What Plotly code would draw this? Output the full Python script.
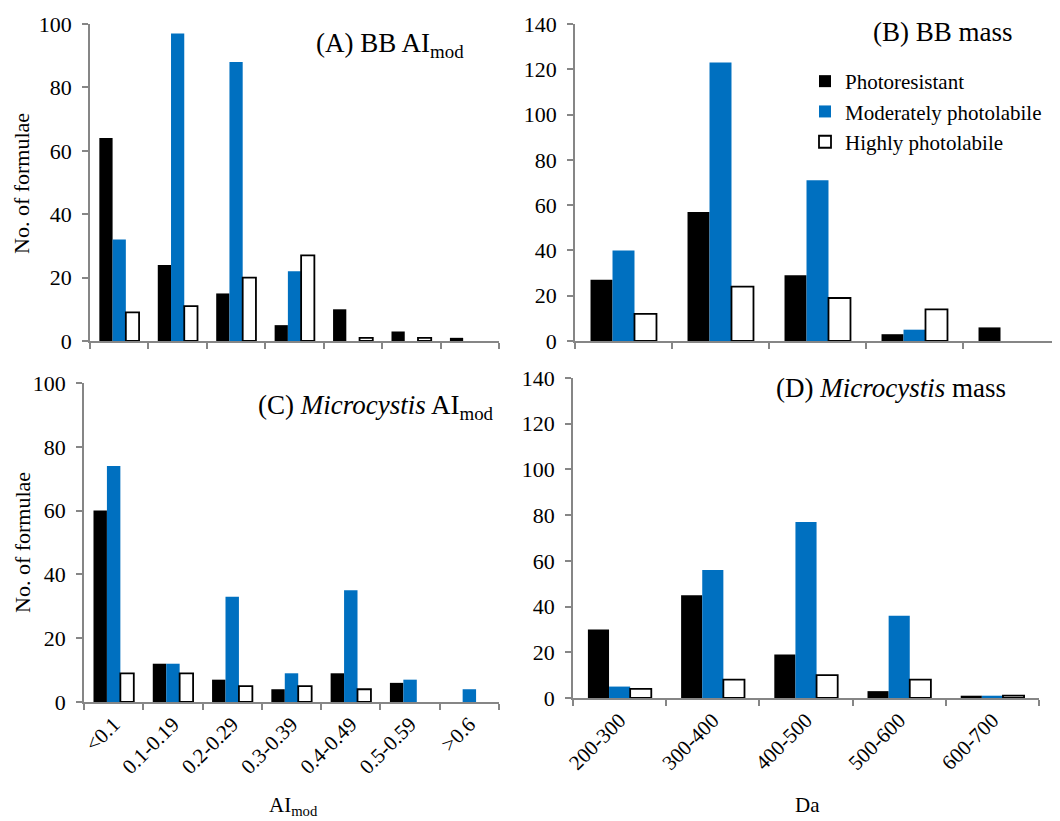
import plotly.graph_objects as go

ai_cats = ["<0.1", "0.1-0.19", "0.2-0.29", "0.3-0.39", "0.4-0.49", "0.5-0.59", ">0.6"]
mass_cats = ["200-300", "300-400", "400-500", "500-600", "600-700"]

series_names = ["Photoresistant", "Moderately photolabile", "Highly photolabile"]

# (A) BB AImod
a_photoresistant = [64, 24, 15, 5, 10, 3, 1]
a_moderate = [32, 97, 88, 22, 0, 0, 0]
a_highly = [9, 11, 20, 27, 1, 1, 0]

# (B) BB mass
b_photoresistant = [27, 57, 29, 3, 6]
b_moderate = [40, 123, 71, 5, 0]
b_highly = [12, 24, 19, 14, 0]

# (C) Microcystis AImod
c_photoresistant = [60, 12, 7, 4, 9, 6, 0]
c_moderate = [74, 12, 33, 9, 35, 7, 4]
c_highly = [9, 9, 5, 5, 4, 0, 0]

# (D) Microcystis mass
d_photoresistant = [30, 45, 19, 3, 1]
d_moderate = [5, 56, 77, 36, 1]
d_highly = [4, 8, 10, 8, 1]

# The page body has an 8 px margin; the figure fills the rest of the window.
OFF = 8
W, H = 1060 - OFF, 821 - OFF
FONT = "Liberation Serif"
AXIS_GRAY = "#868686"

styles = [
    dict(color="#000000", line=dict(color="#000000", width=0)),
    dict(color="#0070C0", line=dict(color="#0070C0", width=0)),
    dict(color="#FFFFFF", line=dict(color="#000000", width=1.8)),
]

panels = [
    ("x", "y", ai_cats, [a_photoresistant, a_moderate, a_highly], True),
    ("x2", "y2", mass_cats, [b_photoresistant, b_moderate, b_highly], False),
    ("x3", "y3", ai_cats, [c_photoresistant, c_moderate, c_highly], False),
    ("x4", "y4", mass_cats, [d_photoresistant, d_moderate, d_highly], False),
]

fig = go.Figure()
for xa, ya, cats, data, show in panels:
    for name, vals, st in zip(series_names, data, styles):
        fig.add_trace(go.Bar(
            x=cats, y=[v if v else None for v in vals], name=name, xaxis=xa, yaxis=ya,
            marker=st, showlegend=show, legendgroup=name,
        ))

def px_x(p):
    return min(1.0, (p - OFF) / W)

def px_y(p):
    return 1 - (p - OFF) / H

common_x = dict(
    type="category", showline=True, linecolor=AXIS_GRAY, linewidth=1.5,
    ticks="outside", tickson="boundaries", tickcolor=AXIS_GRAY, ticklen=6, tickwidth=1.5,
    showgrid=False, zeroline=False, tickangle=-45, automargin=False,
    tickfont=dict(family=FONT, size=21, color="#000000"),
)
common_y = dict(
    showline=True, linecolor=AXIS_GRAY, linewidth=1.5,
    ticks="outside", tickcolor=AXIS_GRAY, ticklen=6, tickwidth=1.5,
    showgrid=False, zeroline=False, dtick=20, automargin=False,
    ticklabelstandoff=6,
    tickfont=dict(family=FONT, size=22, color="#000000"),
)

fig.update_layout(
    template="none",
    width=W, height=H,
    margin=dict(l=0, r=0, t=0, b=0, pad=0),
    paper_bgcolor="white", plot_bgcolor="white",
    barmode="group", bargap=0.32, bargroupgap=0,
    font=dict(family=FONT, color="#000000"),
    xaxis=dict(common_x, domain=[px_x(90), px_x(499)], anchor="y", showticklabels=False),
    yaxis=dict(common_y, domain=[px_y(341), px_y(24)], anchor="x", range=[0, 100]),
    xaxis2=dict(common_x, domain=[px_x(575), px_x(1060)], anchor="y2", showticklabels=False),
    yaxis2=dict(common_y, domain=[px_y(341), px_y(24)], anchor="x2", range=[0, 140]),
    xaxis3=dict(common_x, domain=[px_x(84), px_x(499)], anchor="y3"),
    yaxis3=dict(common_y, domain=[px_y(702), px_y(383)], anchor="x3", range=[0, 100]),
    xaxis4=dict(common_x, domain=[px_x(573), px_x(1039)], anchor="y4"),
    yaxis4=dict(common_y, domain=[px_y(698), px_y(378)], anchor="x4", range=[0, 140]),
    legend=dict(
        x=px_x(805), y=px_y(61), xanchor="left", yanchor="top",
        font=dict(family=FONT, size=21, color="#000000"),
        bgcolor="rgba(0,0,0,0)", itemwidth=30, traceorder="normal",
    ),
    showlegend=True,
)

annots = [
    ("(A) BB AI<sub>mod</sub>", 466, 45, "right", 27),
    ("(B) BB mass", 1015, 32, "right", 27),
    ("(C) <i>Microcystis</i> AI<sub>mod</sub>", 496, 407, "right", 27),
    ("(D) <i>Microcystis</i> mass", 1008, 388, "right", 27),
    ("AI<sub>mod</sub>", 293, 806, "center", 21),
    ("Da", 807, 805, "center", 21),
]
for text, x, y, xanchor, size in annots:
    fig.add_annotation(
        text=text, x=px_x(x), y=px_y(y), xref="paper", yref="paper",
        xanchor=xanchor, yanchor="middle", showarrow=False,
        font=dict(family=FONT, size=size, color="#000000"),
    )

for yc in (184, 543):
    fig.add_annotation(
        text="No. of formulae", x=px_x(22), y=px_y(yc), xref="paper", yref="paper",
        xanchor="center", yanchor="middle", showarrow=False, textangle=-90,
        font=dict(family=FONT, size=22, color="#000000"),
    )

fig.write_html("out.html")
